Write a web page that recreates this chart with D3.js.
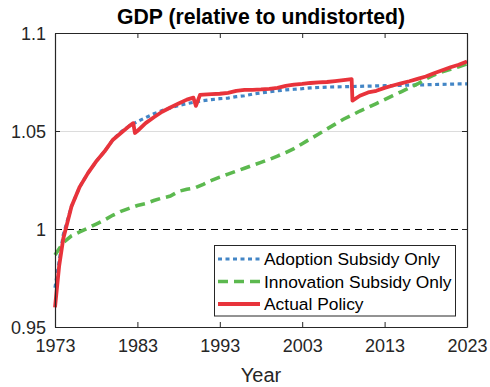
<!DOCTYPE html>
<html><head><meta charset="utf-8">
<script src="https://cdn.jsdelivr.net/npm/d3@7"></script>
<style>
html,body{margin:0;padding:0;background:#fff;}
svg{display:block;font-family:"Liberation Sans",Arial,Helvetica,sans-serif;}
</style></head><body>
<svg id="c" width="490" height="387"></svg>
<script>
// ---- data ----
const redYears = [1973,1973.5,1974,1975,1976,1977,1978,1979,1980,1981,1982,1982.5,1982.7,1983,1984,1985,1986,1987,1988,1989,1989.8,1990.1,1990.6,1991,1992,1993,1994,1995,1996,1997,1998,1999,2000,2001,2002,2003,2004,2005,2006,2007,2008,2009,2009.1,2010,2011,2012,2013,2014,2015,2016,2017,2018,2019,2020,2021,2022,2023];
const redValues = [0.960,0.981,0.995,1.0115,1.0215,1.0285,1.0345,1.0395,1.0454,1.049,1.0525,1.054,1.049,1.050,1.054,1.057,1.0598,1.062,1.064,1.066,1.067,1.0628,1.0684,1.0686,1.0688,1.069,1.0695,1.0705,1.071,1.071,1.0712,1.0715,1.072,1.073,1.0737,1.074,1.0745,1.0748,1.075,1.0755,1.076,1.0765,1.0655,1.068,1.0697,1.0705,1.072,1.0732,1.0743,1.0754,1.0766,1.0778,1.0795,1.081,1.0825,1.0838,1.0855];

const years = d3.range(1973, 2024);
const adoptionValues = [0.970,0.997,1.0115,1.0215,1.0285,1.0345,1.0395,1.0454,1.0495,1.0525,1.0548,1.0568,1.0588,1.0604,1.0618,1.063,1.064,1.0648,1.0655,1.066,1.0665,1.0668,1.0675,1.068,1.0688,1.0694,1.07,1.0705,1.071,1.0713,1.0716,1.072,1.0722,1.0724,1.0725,1.0726,1.0727,1.0728,1.0729,1.073,1.0731,1.0732,1.0733,1.0734,1.0735,1.0736,1.0737,1.0738,1.0739,1.074,1.074];
const innovationValues = [0.9867,0.993,0.9965,0.9985,1.0005,1.0025,1.0046,1.007,1.009,1.0105,1.012,1.013,1.0145,1.0158,1.0168,1.0192,1.0203,1.021,1.0228,1.0248,1.0265,1.028,1.0295,1.031,1.0325,1.034,1.0355,1.0372,1.039,1.041,1.0435,1.046,1.0485,1.051,1.0535,1.056,1.058,1.0602,1.062,1.064,1.066,1.068,1.070,1.072,1.074,1.0765,1.0786,1.0802,1.0815,1.0828,1.0842];

const xTicks = [1973,1983,1993,2003,2013,2023];
const yTicks = [0.95,1,1.05,1.1];
const yTickLabels = ["0.95","1","1.05","1.1"];
const seriesNames = ["Adoption Subsidy Only","Innovation Subsidy Only","Actual Policy"];
const titleText = "GDP (relative to undistorted)";
const xLabelText = "Year";

// ---- layout ----
const L = 55, T = 33, W = 412, H = 294;
const svg = d3.select("#c");
const g = svg.append("g").attr("transform", `translate(${L},${T})`);
const x = d3.scaleLinear().domain([1973, 2023]).range([0, W]);
const y = d3.scaleLinear().domain([0.95, 1.1]).range([H, 0]);
const axisCol = "#262626";

// grid
g.append("g").selectAll("line").data([1.05]).join("line")
  .attr("x1", 0).attr("x2", W).attr("y1", d => y(d) + 0.5).attr("y2", d => y(d) + 0.5)
  .attr("stroke", "#dcdcdc").attr("stroke-width", 1);

// reference line at 1
g.append("line").attr("x1", 0).attr("x2", W).attr("y1", y(1) + 0.5).attr("y2", y(1) + 0.5)
  .attr("stroke", "#000").attr("stroke-width", 1).attr("stroke-dasharray", "7,5");

// series
const line = (xs) => d3.line().x((d, i) => x(xs[i])).y(d => y(d));
g.append("path").datum(adoptionValues).attr("d", line(years))
  .attr("fill", "none").attr("stroke", "#4386c6").attr("stroke-width", 3.2)
  .attr("stroke-dasharray", "4,3.5");
g.append("path").datum(innovationValues).attr("d", line(years))
  .attr("fill", "none").attr("stroke", "#5cb94f").attr("stroke-width", 3.6)
  .attr("stroke-dasharray", "10,6");
g.append("path").datum(redValues).attr("d", line(redYears))
  .attr("fill", "none").attr("stroke", "#e8333b").attr("stroke-width", 3.8)
  .attr("stroke-linejoin", "round");

// axes
const fs = "18px";
const xb = g.append("g").attr("transform", `translate(0,${H})`)
  .call(d3.axisBottom(x).tickValues(xTicks).tickFormat(d3.format("d")).tickSizeInner(-5).tickSizeOuter(0).tickPadding(8));
const xt = g.append("g")
  .call(d3.axisTop(x).tickValues(xTicks).tickFormat("").tickSizeInner(-5).tickSizeOuter(0));
const yl = g.append("g")
  .call(d3.axisLeft(y).tickValues(yTicks).tickFormat((d, i) => yTickLabels[i]).tickSizeInner(-5).tickSizeOuter(0).tickPadding(9));
const yr = g.append("g").attr("transform", `translate(${W},0)`)
  .call(d3.axisRight(y).tickValues(yTicks).tickFormat("").tickSizeInner(-5).tickSizeOuter(0));
[xb, xt, yl, yr].forEach(a => {
  a.select(".domain").attr("stroke", axisCol).attr("stroke-width", 1.2);
  a.selectAll(".tick line").attr("stroke", axisCol).attr("stroke-width", 1);
  a.selectAll("text").attr("fill", axisCol).style("font-size", fs)
    .style("font-family", '"Liberation Sans",Arial,sans-serif');
});
xb.selectAll("text").attr("dy", "0.75em").attr("y", 11);
yl.selectAll("text").attr("dy", "0.35em");

// title & label
svg.append("text").attr("x", L + W / 2).attr("y", 24).attr("text-anchor", "middle")
  .style("font-size", "21.2px").style("font-weight", "bold").attr("fill", "#000").text(titleText);
svg.append("text").attr("x", L + W / 2).attr("y", 382).attr("text-anchor", "middle")
  .style("font-size", "20px").attr("fill", axisCol).text(xLabelText);

// legend
const lg = svg.append("g");
lg.append("rect").attr("x", 214.5).attr("y", 245.5).attr("width", 241).attr("height", 70.5)
  .attr("fill", "#fff").attr("stroke", axisCol).attr("stroke-width", 1);
const styles = [
  {c: "#4386c6", w: 3.2, d: "4,3.5"},
  {c: "#5cb94f", w: 3.6, d: "10,6"},
  {c: "#e8333b", w: 3.8, d: null}
];
seriesNames.forEach((n, i) => {
  const cy = 259 + i * 22.5;
  lg.append("line").attr("x1", 218).attr("x2", 260).attr("y1", cy).attr("y2", cy)
    .attr("stroke", styles[i].c).attr("stroke-width", styles[i].w)
    .attr("stroke-dasharray", styles[i].d);
  lg.append("text").attr("x", 264).attr("y", cy + 6).style("font-size", "17.4px")
    .attr("fill", "#000").text(n);
});
</script>
</body></html>
